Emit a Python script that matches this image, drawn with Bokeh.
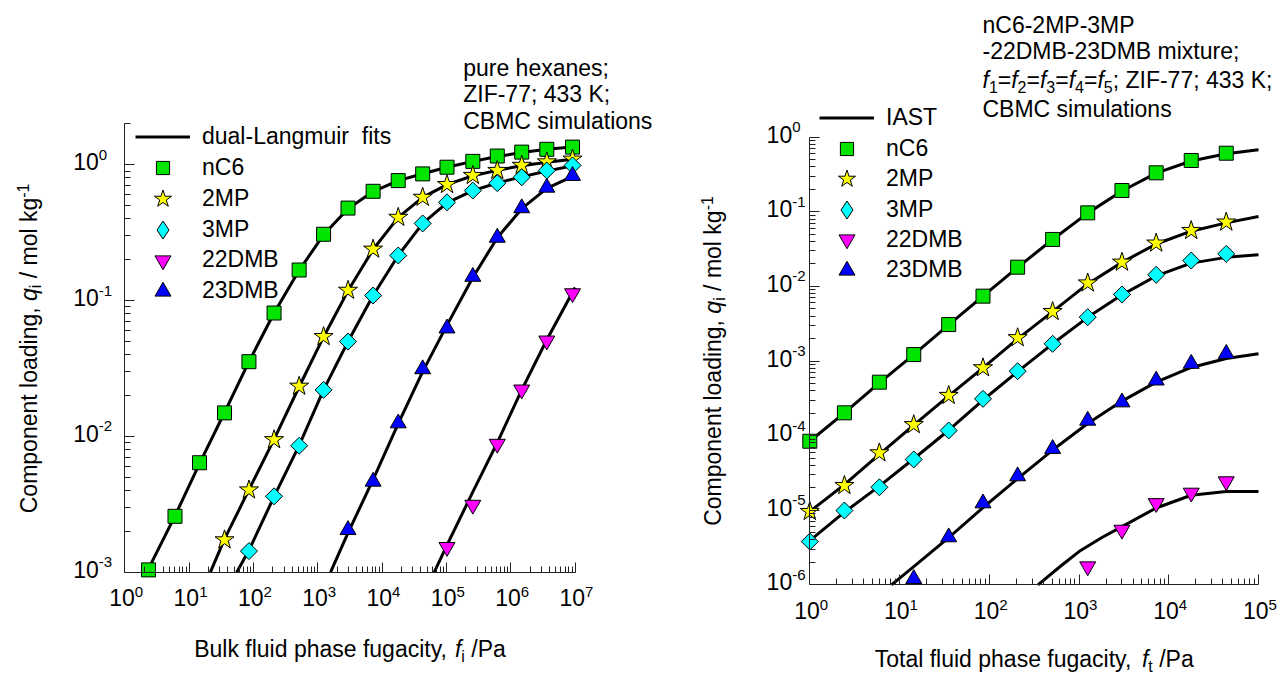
import math
from bokeh.plotting import figure
from bokeh.models import Label, Legend, LegendItem, FixedTicker, CustomJSTickFormatter
from bokeh.layouts import row
from bokeh.embed import file_html
from bokeh.resources import INLINE

# ---------------- data: pure component isotherms (left panel) ----------------
pure_f_nC6 = [2.34, 6.03, 14.5, 35.5, 85.1, 209, 513, 1230, 2950, 7240, 17800, 42700,
              102000, 257000, 617000, 1.48e6, 3.63e6, 9.12e6]
pure_q_nC6 = [1.04e-3, 2.58e-3, 6.4e-3, 0.0149, 0.0355, 0.081, 0.168, 0.308, 0.48, 0.638,
              0.765, 0.857, 0.96, 1.06, 1.16, 1.24, 1.30, 1.35]
pure_f_2MP = [35.5, 85.1, 209, 513, 1230, 2950, 7240, 17800, 42700, 102000, 257000, 617000,
              1.48e6, 3.63e6, 9.12e6]
pure_q_2MP = [1.73e-3, 4.03e-3, 9.45e-3, 0.0234, 0.0543, 0.119, 0.239, 0.41, 0.576, 0.715,
              0.834, 0.908, 0.99, 1.05, 1.10]
pure_f_3MP = [85.1, 209, 513, 1230, 2950, 7240, 17800, 42700, 102000, 257000, 617000,
              1.48e6, 3.63e6, 9.12e6]
pure_q_3MP = [1.43e-3, 3.62e-3, 8.53e-3, 0.022, 0.0499, 0.109, 0.215, 0.37, 0.529, 0.646,
              0.732, 0.81, 0.908, 0.99]
pure_f_22DMB = [102000, 257000, 617000, 1.48e6, 3.63e6, 9.12e6]
pure_q_22DMB = [1.53e-3, 3.13e-3, 8.8e-3, 0.0221, 0.0507, 0.113]
pure_f_23DMB = [2950, 7240, 17800, 42700, 102000, 257000, 617000, 1.48e6, 3.63e6, 9.12e6]
pure_q_23DMB = [2.05e-3, 4.65e-3, 0.0125, 0.0313, 0.0625, 0.15, 0.291, 0.48, 0.68, 0.83]

# dual-Langmuir fit curves
fit_f_nC6 = [2.2, 6.03, 14.5, 35.5, 85.1, 209, 513, 1230, 2950, 7240, 17800, 42700,
             102000, 257000, 617000, 1.48e6, 3.63e6, 1e7]
fit_q_nC6 = [1.0e-3, 2.6e-3, 6.3e-3, 0.015, 0.0355, 0.081, 0.167, 0.305, 0.475, 0.635,
             0.765, 0.86, 0.96, 1.06, 1.15, 1.23, 1.30, 1.36]
fit_f_2MP = [21.4, 35.5, 85.1, 209, 513, 1230, 2950, 7240, 17800, 42700, 102000, 257000,
             617000, 1.48e6, 3.63e6, 1e7]
fit_q_2MP = [1.0e-3, 1.75e-3, 4.05e-3, 9.5e-3, 0.0232, 0.054, 0.118, 0.238, 0.41, 0.575,
             0.715, 0.83, 0.91, 0.985, 1.045, 1.105]
fit_f_3MP = [55.0, 85.1, 209, 513, 1230, 2950, 7240, 17800, 42700, 102000, 257000, 617000,
             1.48e6, 3.63e6, 1e7]
fit_q_3MP = [1.0e-3, 1.45e-3, 3.6e-3, 8.6e-3, 0.022, 0.05, 0.109, 0.215, 0.37, 0.525,
             0.645, 0.735, 0.815, 0.90, 0.99]
fit_f_22DMB = [64600, 102000, 257000, 617000, 1.48e6, 3.63e6, 1e7]
fit_q_22DMB = [1.0e-3, 1.58e-3, 3.9e-3, 9.0e-3, 0.022, 0.0515, 0.125]
fit_f_23DMB = [1580, 2950, 7240, 17800, 42700, 102000, 257000, 617000, 1.48e6, 3.63e6, 1e7]
fit_q_23DMB = [1.0e-3, 1.95e-3, 4.8e-3, 0.0124, 0.030, 0.066, 0.148, 0.29, 0.475, 0.67, 0.84]

# ---------------- data: 5-component mixture (right panel) ----------------
mix_f = [1, 2.43, 5.96, 14.4, 35.3, 85.1, 207, 508, 1250, 3010, 7240, 17800, 43700]
mix_q_nC6 = [8.4e-5, 2.02e-4, 5.2e-4, 1.22e-3, 3.08e-3, 7.4e-3, 0.0181, 0.0426, 0.0968,
             0.193, 0.333, 0.487, 0.61]
mix_q_2MP = [9.6e-6, 2.14e-5, 5.87e-5, 1.40e-4, 3.45e-4, 8.1e-4, 2.05e-3, 4.6e-3, 0.0111,
             0.0211, 0.038, 0.0561, 0.0727]
mix_q_3MP = [3.8e-6, 9.9e-6, 2.03e-5, 4.79e-5, 1.17e-4, 3.11e-4, 7.3e-4, 1.70e-3, 3.87e-3,
             7.8e-3, 0.0143, 0.0222, 0.0273]
mix_f_22DMB = [1250, 3010, 7240, 17800, 43700]
mix_q_22DMB = [1.76e-6, 5.45e-6, 1.24e-5, 1.71e-5, 2.43e-5]
mix_f_23DMB = [14.4, 35.3, 85.1, 207, 508, 1250, 3010, 7240, 17800, 43700]
mix_q_23DMB = [1.2e-6, 4.35e-6, 1.24e-5, 2.86e-5, 6.65e-5, 1.59e-4, 2.8e-4, 5.5e-4, 9.2e-4,
               1.25e-3]

# IAST curves
iast_f = [1, 2.43, 5.96, 14.4, 35.3, 85.1, 207, 508, 1250, 3010, 7240, 17800, 43700, 1e5]
iast_q_nC6 = [8.4e-5, 2.02e-4, 5.1e-4, 1.22e-3, 3.05e-3, 7.4e-3, 0.018, 0.0425, 0.096,
              0.19, 0.33, 0.48, 0.60, 0.678]
iast_q_2MP = [9.6e-6, 2.2e-5, 5.6e-5, 1.38e-4, 3.4e-4, 8.1e-4, 1.98e-3, 4.6e-3, 0.0108,
              0.021, 0.037, 0.055, 0.071, 0.0865]
iast_q_3MP = [3.9e-6, 9.4e-6, 2.1e-5, 4.9e-5, 1.18e-4, 3.0e-4, 7.2e-4, 1.7e-3, 3.85e-3,
              7.7e-3, 0.0138, 0.0205, 0.0245, 0.0265]
iast_f_22DMB = [349, 631, 1000, 1780, 3010, 7240, 17800, 43700, 1e5]
iast_q_22DMB = [1.0e-6, 1.80e-6, 2.79e-6, 4.27e-6, 6.03e-6, 1.07e-5, 1.585e-5, 1.78e-5,
                1.78e-5]
iast_f_23DMB = [8.13, 14.4, 35.3, 85.1, 207, 508, 1250, 3010, 7240, 17800, 43700, 1e5]
iast_q_23DMB = [1.0e-6, 1.75e-6, 4.3e-6, 1.08e-5, 2.65e-5, 6.4e-5, 1.45e-4, 2.9e-4,
                5.2e-4, 8.2e-4, 1.08e-3, 1.25e-3]

# axis extents and tick decades (tick labels 10^n)
pure_x_bounds = (1, 1e7)
pure_y_bounds = (1e-3, 2)
mix_x_bounds = (1, 1e5)
mix_y_bounds = (1e-6, 1)
pure_x_decades = [0, 1, 2, 3, 4, 5, 6, 7]
pure_y_decades = [-3, -2, -1, 0]
mix_x_decades = [0, 1, 2, 3, 4, 5]
mix_y_decades = [-6, -5, -4, -3, -2, -1, 0]

species = ["nC6", "2MP", "3MP", "22DMB", "23DMB"]

# ---------------- styling / geometry (pixels) ----------------
H = 675
FONT = "Liberation Sans"
TXT = 23
AW = {' ': 278, '\u00a0': 278, ',': 278, '-': 333, '.': 278, '/': 278, ';': 278, '=': 584,
      'A': 667, 'B': 667, 'C': 722, 'D': 722, 'E': 667, 'F': 611, 'G': 778, 'H': 722,
      'I': 278, 'K': 667, 'L': 556, 'M': 833, 'N': 722, 'O': 778, 'P': 667, 'S': 667,
      'T': 611, 'Z': 611,
      'a': 556, 'b': 556, 'c': 500, 'd': 556, 'e': 556, 'f': 278, 'g': 556, 'h': 556,
      'i': 222, 'k': 500, 'l': 222, 'm': 833, 'n': 556, 'o': 556, 'p': 556, 'q': 556,
      'r': 333, 's': 500, 't': 278, 'u': 556, 'x': 500, 'y': 500}
SHIFT = {"n": 0, "i": 0, "sub": -7, "sup": 6}   # centre-line shift, px (up positive)


def tw(s, size):
    return sum(AW.get(c, 556) for c in s) * size / 1000.0


def psize(kind, size):
    return size if kind in ("n", "i") else round(size * 0.68)


def pieces_width(pieces, size=TXT):
    return sum(tw(t, psize(k, size)) for t, k in pieces)


def add_pieces(p, x0, y0, pieces, size=TXT, angle=0.0):
    """x0, y0: screen px of the frame (origin bottom-left); y0 = text centre line."""
    pos = 0.0
    for text, kind in pieces:
        s = psize(kind, size)
        lead = len(text) - len(text.lstrip(" "))
        pos += tw(text[:lead], s)
        body = text[lead:]
        shift = SHIFT[kind]
        if angle == 0:
            x, y = x0 + pos, y0 + shift
        else:
            x, y = x0 - shift, y0 + pos
        p.add_layout(Label(x=x, y=y, x_units="screen", y_units="screen", text=body,
                           angle=angle, text_font=FONT, text_font_size=f"{s}px",
                           text_font_style="italic" if kind == "i" else "normal",
                           text_align="left", text_baseline="middle",
                           text_color="black"))
        pos += tw(body, s)


def make_fig(width, ax_x0, pxx, ax_y0, ylow_dec, pxy, xb, yb, xdec, ydec):
    # frame covers the whole canvas; axes are drawn at fixed data locations
    xr = (10 ** (-ax_x0 / pxx), 10 ** ((width - ax_x0) / pxx))
    yr = (10 ** (ylow_dec - (H - ax_y0) / pxy), 10 ** (ylow_dec + ax_y0 / pxy))
    p = figure(width=width, height=H, x_axis_type="log", y_axis_type="log",
               x_range=xr, y_range=yr, toolbar_location=None, output_backend="svg",
               min_border=0, min_border_left=0, min_border_right=0, min_border_top=0,
               min_border_bottom=0, title=None)
    p.outline_line_color = None
    p.grid.visible = False
    p.background_fill_color = "white"
    p.border_fill_color = "white"
    xmaj = [10.0 ** d for d in xdec]
    xmin = [k * 10.0 ** d for d in xdec[:-1] for k in range(2, 10)]
    ymaj = [10.0 ** d for d in ydec]
    ymin = [k * 10.0 ** d for d in ydec[:-1] for k in range(2, 10)]
    ymin += [k * ymaj[-1] for k in range(2, 10) if k * ymaj[-1] <= yb[1] * 1.0001]
    p.xaxis.ticker = FixedTicker(ticks=xmaj, minor_ticks=xmin)
    p.yaxis.ticker = FixedTicker(ticks=ymaj, minor_ticks=ymin)
    p.xaxis.fixed_location = yb[0]
    p.yaxis.fixed_location = xb[0]
    p.xaxis.bounds = xb
    p.yaxis.bounds = yb
    for ax in (p.xaxis, p.yaxis):
        ax.formatter = CustomJSTickFormatter(code="return ''")
        ax.axis_line_color = "#222222"
        ax.axis_line_width = 1
        ax.major_tick_line_color = "#222222"
        ax.minor_tick_line_color = "#222222"
        ax.major_tick_in = 10
        ax.major_tick_out = 0
        ax.minor_tick_in = 6
        ax.minor_tick_out = 0
    return p


def tick_labels(p, xdec, ydec, x_mid_sy, y_right_sx):
    for d in xdec:
        p.add_layout(Label(x=10.0 ** d, x_units="data", y=x_mid_sy, y_units="screen",
                           text="10", x_offset=10, text_align="right",
                           text_baseline="middle", text_font=FONT,
                           text_font_size="23px", text_color="black"))
        p.add_layout(Label(x=10.0 ** d, x_units="data", y=x_mid_sy + 5.5, y_units="screen",
                           text=str(d), x_offset=10, text_align="left",
                           text_baseline="middle", text_font=FONT,
                           text_font_size="15px", text_color="black"))
    for d in ydec:
        p.add_layout(Label(x=y_right_sx, x_units="screen", y=10.0 ** d, y_units="data",
                           text="10", y_offset=3, text_align="right", text_baseline="middle",
                           text_font=FONT, text_font_size="23px", text_color="black"))
        p.add_layout(Label(x=y_right_sx, x_units="screen", y=10.0 ** d, y_units="data",
                           text=str(d), y_offset=10, text_align="left",
                           text_baseline="middle", text_font=FONT, text_font_size="15px",
                           text_color="black"))


MK = {
    "nC6": dict(marker="square", size=14, fill_color="#00e400", angle=0.0),
    "2MP": dict(marker="star", size=20, fill_color="#ffff00", angle=0.0),
    "3MP": dict(marker="square", size=12, fill_color="#00ffff", angle=math.pi / 4),
    "22DMB": dict(marker="inverted_triangle", size=16, fill_color="#ff00ff", angle=0.0),
    "23DMB": dict(marker="triangle", size=16, fill_color="#0000ff", angle=0.0),
}
# legend glyph box heights (legend marker size = 0.4 * box height)
LEG_GH = {"line": 31, "nC6": 33, "2MP": 45, "3MP": 45, "22DMB": 40, "23DMB": 40}


def legends(p, line_r, line_label, marker_rs, gx, first_cy, pitch):
    """gx: screen x of legend glyph box; first_cy: screen y of first row centre."""
    entries = [("line", line_label, line_r)] + [(n, n, r) for n, r in zip(species, marker_rs)]
    for i, (key, label, r) in enumerate(entries):
        gh = LEG_GH[key]
        cy = first_cy - i * pitch
        leg = Legend(items=[LegendItem(label=label, renderers=[r])],
                     location=(gx, cy - gh / 2), orientation="vertical", padding=0, margin=0,
                     spacing=0, glyph_width=55, glyph_height=gh, label_height=gh,
                     label_standoff=12, border_line_color=None, background_fill_alpha=0,
                     label_text_font=FONT, label_text_font_size=f"{TXT}px",
                     label_text_color="black", label_text_baseline="middle",
                     click_policy="none", inactive_fill_alpha=0)
        p.add_layout(leg)


def draw_panel(p, curves, points):
    line_rs = [p.line(f, q, line_color="black", line_width=3, line_join="round")
               for f, q in curves]
    mk_rs = []
    leg_rs = []
    for name, (f, q) in zip(species, points):
        m = MK[name]
        r = p.scatter(f, q, marker=m["marker"], size=m["size"], angle=m["angle"],
                      fill_color=m["fill_color"], line_color="black", line_width=1)
        mk_rs.append(r)
        if name == "3MP":
            # hidden twin drawn as a diamond, used only for the legend swatch
            leg_rs.append(p.scatter(f, q, marker="diamond", size=16, visible=False,
                                    fill_color=m["fill_color"], line_color="black",
                                    line_width=1))
        else:
            leg_rs.append(r)
    return line_rs, leg_rs


# ---------------- left panel: canvas x 0..680 ----------------
W1 = 680
p1 = make_fig(W1, 124.3, 64.33, 571.7, -3, 135.8, pure_x_bounds, pure_y_bounds,
              pure_x_decades, pure_y_decades)
fits = [(fit_f_nC6, fit_q_nC6), (fit_f_2MP, fit_q_2MP), (fit_f_3MP, fit_q_3MP),
        (fit_f_22DMB, fit_q_22DMB), (fit_f_23DMB, fit_q_23DMB)]
pts = [(pure_f_nC6, pure_q_nC6), (pure_f_2MP, pure_q_2MP), (pure_f_3MP, pure_q_3MP),
       (pure_f_22DMB, pure_q_22DMB), (pure_f_23DMB, pure_q_23DMB)]
lr1, lg1 = draw_panel(p1, fits, pts)
legends(p1, lr1[0], "dual-Langmuir\u00a0 fits", lg1, 135, H - 136.7, 30.8)
tick_labels(p1, pure_x_decades, pure_y_decades, H - 597.2, 98.3)

yt = [("Component loading, ", "n"), ("q", "i"), ("i", "sub"), (" / mol kg", "n"), ("-1", "sup")]
add_pieces(p1, 28, (H - 347.9) - pieces_width(yt) / 2, yt, angle=math.pi / 2)
xt = [("Bulk fluid phase fugacity, ", "n"), ("f", "i"), ("i", "sub"), (" /Pa", "n")]
add_pieces(p1, 349.5 - pieces_width(xt) / 2, H - 648.5, xt)
add_pieces(p1, 462.7, H - 67, [("pure hexanes;", "n")])
add_pieces(p1, 462.7, H - 93.7, [("ZIF-77; 433 K;", "n")])
add_pieces(p1, 462.7, H - 120.3, [("CBMC simulations", "n")])

# ---------------- right panel: canvas x 680..1287 ----------------
OX = 680
W2 = 1287 - OX
p2 = make_fig(W2, 809.3 - OX, 89.74, 584.3, -6, 74.6, mix_x_bounds, mix_y_bounds,
              mix_x_decades, mix_y_decades)
curves = [(iast_f, iast_q_nC6), (iast_f, iast_q_2MP), (iast_f, iast_q_3MP),
          (iast_f_22DMB, iast_q_22DMB), (iast_f_23DMB, iast_q_23DMB)]
pts2 = [(mix_f, mix_q_nC6), (mix_f, mix_q_2MP), (mix_f, mix_q_3MP),
        (mix_f_22DMB, mix_q_22DMB), (mix_f_23DMB, mix_q_23DMB)]
lr2, lg2 = draw_panel(p2, curves, pts2)
legends(p2, lr2[0], "IAST", lg2, 819 - OX, H - 117.8, 30.4)
tick_labels(p2, mix_x_decades, mix_y_decades, H - 609.9, 791.7 - OX)

add_pieces(p2, 712 - OX, (H - 360.5) - pieces_width(yt) / 2, yt, angle=math.pi / 2)
xt2 = [("Total fluid phase fugacity, ", "n"), ("f", "i"), ("t", "sub"), (" /Pa", "n")]
add_pieces(p2, 1033.7 - OX - pieces_width(xt2) / 2, H - 658.5, xt2)
add_pieces(p2, 982 - OX, H - 24, [("nC6-2MP-3MP", "n")])
add_pieces(p2, 982 - OX, H - 50.5, [("-22DMB-23DMB mixture;", "n")])
fl = []
for k in range(1, 6):
    fl += [("f", "i"), (str(k), "sub")]
    if k < 5:
        fl.append(("=", "n"))
fl.append(("; ZIF-77; 433 K;", "n"))
add_pieces(p2, 982 - OX, H - 79.5, fl)
add_pieces(p2, 982 - OX, H - 108.5, [("CBMC simulations", "n")])

layout = row(p1, p2)
open("out.html", "w").write(file_html(layout, INLINE))
